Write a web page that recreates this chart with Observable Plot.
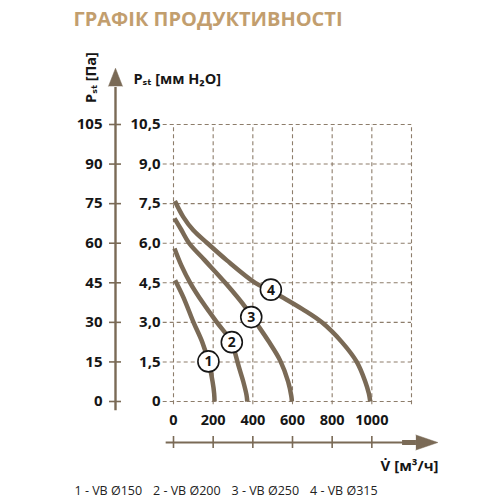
<!DOCTYPE html>
<html>
<head>
<meta charset="utf-8">
<script src="https://cdn.jsdelivr.net/npm/d3@7"></script>
<script src="https://cdn.jsdelivr.net/npm/@observablehq/plot@0.6"></script>
<style>
  body { margin: 0; background: #fff; }
  #chart svg { display: block; overflow: visible; }
</style>
</head>
<body>
<div id="chart"></div>
<script>
// ticks
const mmTicks = [0, 1.5, 3.0, 4.5, 6.0, 7.5, 9.0, 10.5];
const paTicks = [0, 15, 30, 45, 60, 75, 90, 105];
const gridQ = [0, 200, 400, 600, 800, 1000, 1200];
const qTicks = [0, 200, 400, 600, 800, 1000];

// curves: flow (m3/h) vs static pressure (mm H2O)
const q1 = [8, 50, 101, 145, 176, 197, 205, 207];
const p1 = [4.6, 3.95, 3.0, 2.25, 1.52, 0.75, 0.3, 0];
const q2 = [5, 40, 84, 150, 219, 294, 310, 330, 352, 368, 372];
const p2 = [5.8, 5.15, 4.5, 3.72, 3.0, 2.25, 1.85, 1.3, 0.75, 0.25, 0];
const q3 = [5, 40, 79, 158, 261, 362, 415, 478, 538, 578, 594, 597];
const p3 = [6.94, 6.5, 6.0, 5.35, 4.5, 3.58, 3.0, 2.3, 1.55, 0.75, 0.2, 0];
const q4 = [7, 49, 99, 171, 269, 412, 491, 547, 650, 748, 849, 924, 967, 985, 992];
const p4 = [7.6, 7.0, 6.5, 6.0, 5.35, 4.5, 4.2, 3.96, 3.5, 3.0, 2.25, 1.5, 0.75, 0.3, 0];

// curve number badges
const badgeIds = ["1", "2", "3", "4"];
const badgeQ = [176, 294, 392, 491];
const badgeP = [1.52, 2.25, 3.2, 4.24];

const legendItems = ["1 - VB Ø150", "2 - VB Ø200", "3 - VB Ø250", "4 - VB Ø315"];

const curves = [[q1, p1], [q2, p2], [q3, p3], [q4, p4]];
const rows = curves.flatMap(([qs, ps], k) => qs.map((q, i) => ({curve: k + 1, q, p: ps[i]})));
const badges = badgeIds.map((id, i) => ({id, q: badgeQ[i], p: badgeP[i]}));

const brown = "#7a6a56";
const gridColor = "#8d7d6b";
const ink = "#161616";
const font = "'Open Sans', 'DejaVu Sans', sans-serif";
const comma = d => d === 0 ? "0" : d.toFixed(1).replace(".", ",");

const chart = Plot.plot({
  width: 503,
  height: 503,
  marginLeft: 173,
  marginRight: 92,
  marginTop: 124,
  marginBottom: 102,
  style: {fontFamily: font, background: "transparent", overflow: "visible"},
  x: {domain: [0, 1200], label: null},
  y: {domain: [0, 10.5], label: null},
  marks: [
    // dashed grid
    Plot.ruleY(mmTicks, {x1: -52, x2: 1200, stroke: gridColor, strokeWidth: 1.1, strokeDasharray: "4,3"}),
    Plot.ruleX(gridQ, {y1: -0.12, y2: 10.5, stroke: gridColor, strokeWidth: 1.1, strokeDasharray: "4,3"}),

    // mm H2O labels
    Plot.axisY(mmTicks, {anchor: "left", label: null, tickSize: 0, tickPadding: 13, tickFormat: comma,
      fontSize: 15, fontWeight: "bold", color: ink}),

    // Pa axis: line, arrow, ticks, labels
    Plot.ruleX([0], {dx: -58, y1: -0.35, y2: 11.9, stroke: brown, strokeWidth: 2.4}),
    Plot.vector([0], {x: 0, y: 11.95, dx: -58, length: 18, r: 7, shape: "spike", anchor: "start",
      fill: brown, stroke: brown, strokeWidth: 0.5}),
    Plot.axisY(mmTicks, {anchor: "left", label: null, dx: -52, tickSize: 12, tickPadding: 100, tickFormat: () => "",
      color: brown, strokeWidth: 1.6}),
    Plot.axisY(mmTicks, {anchor: "left", label: null, dx: -64, tickSize: 0, tickPadding: 7,
      tickFormat: (d, i) => String(paTicks[i]), fontSize: 15, fontWeight: "bold", color: ink}),

    // flow labels and axis
    Plot.axisX(qTicks, {anchor: "bottom", label: null, tickSize: 0, tickPadding: 13, tickFormat: d => String(d),
      fontSize: 14.5, fontWeight: "bold", color: ink}),
    Plot.ruleY([0], {dy: 41, x1: -37, x2: 1160, stroke: brown, strokeWidth: 2.2}),
    Plot.ruleY([0], {dy: 41, x1: 1155, x2: 1225, stroke: brown, strokeWidth: 5}),
    Plot.vector([0], {x: 1222, y: 0, dy: 41, length: 22, r: 7.5, rotate: 90, shape: "spike", anchor: "start",
      fill: brown, stroke: brown, strokeWidth: 0.5}),
    Plot.axisX(qTicks, {anchor: "bottom", label: null, dy: 35, tickSize: 12, tickFormat: () => "",
      color: brown, strokeWidth: 1.6}),

    // performance curves
    Plot.line(rows, {x: "q", y: "p", z: "curve", curve: "catmull-rom", stroke: brown, strokeWidth: 4.5,
      strokeLinecap: "butt"}),

    // badges
    Plot.dot(badges, {x: "q", y: "p", r: 10.5, fill: "white", stroke: ink, strokeWidth: 1.6}),
    Plot.text(badges, {x: "q", y: "p", text: "id", fontSize: 14, fontWeight: "bold", fill: ink, dy: 0.5}),

    // titles
    Plot.text(["ГРАФІК ПРОДУКТИВНОСТІ"], {frameAnchor: "top-left", dx: -100, dy: -105, textAnchor: "start",
      lineAnchor: "middle", fontSize: 20, fontWeight: "bold", fill: "#c29e6e"}),
    Plot.text(["Pₛₜ [мм H₂O]"], {frameAnchor: "top-left", dx: -40, dy: -45, textAnchor: "start",
      lineAnchor: "middle", fontSize: 14.5, fontWeight: "bold", fill: ink}),
    Plot.text(["Pₛₜ [Па]"], {frameAnchor: "top-left", dx: -82, dy: -47, rotate: -90, textAnchor: "middle",
      lineAnchor: "middle", fontSize: 14.5, fontWeight: "bold", fill: ink}),
    Plot.text(["V̇ [м³/ч]"], {frameAnchor: "bottom-right", dx: 27, dy: 65, textAnchor: "end",
      lineAnchor: "middle", fontSize: 15, fontWeight: "bold", fill: ink}),

    // legend
    ...legendItems.map((item, i) => Plot.text([item], {frameAnchor: "bottom-left", dx: -99 + i * 78.5, dy: 89,
      textAnchor: "start", lineAnchor: "middle", fontSize: 12.5, fill: "#222"}))
  ]
});

d3.select("#chart").append(() => chart);
</script>
</body>
</html>
